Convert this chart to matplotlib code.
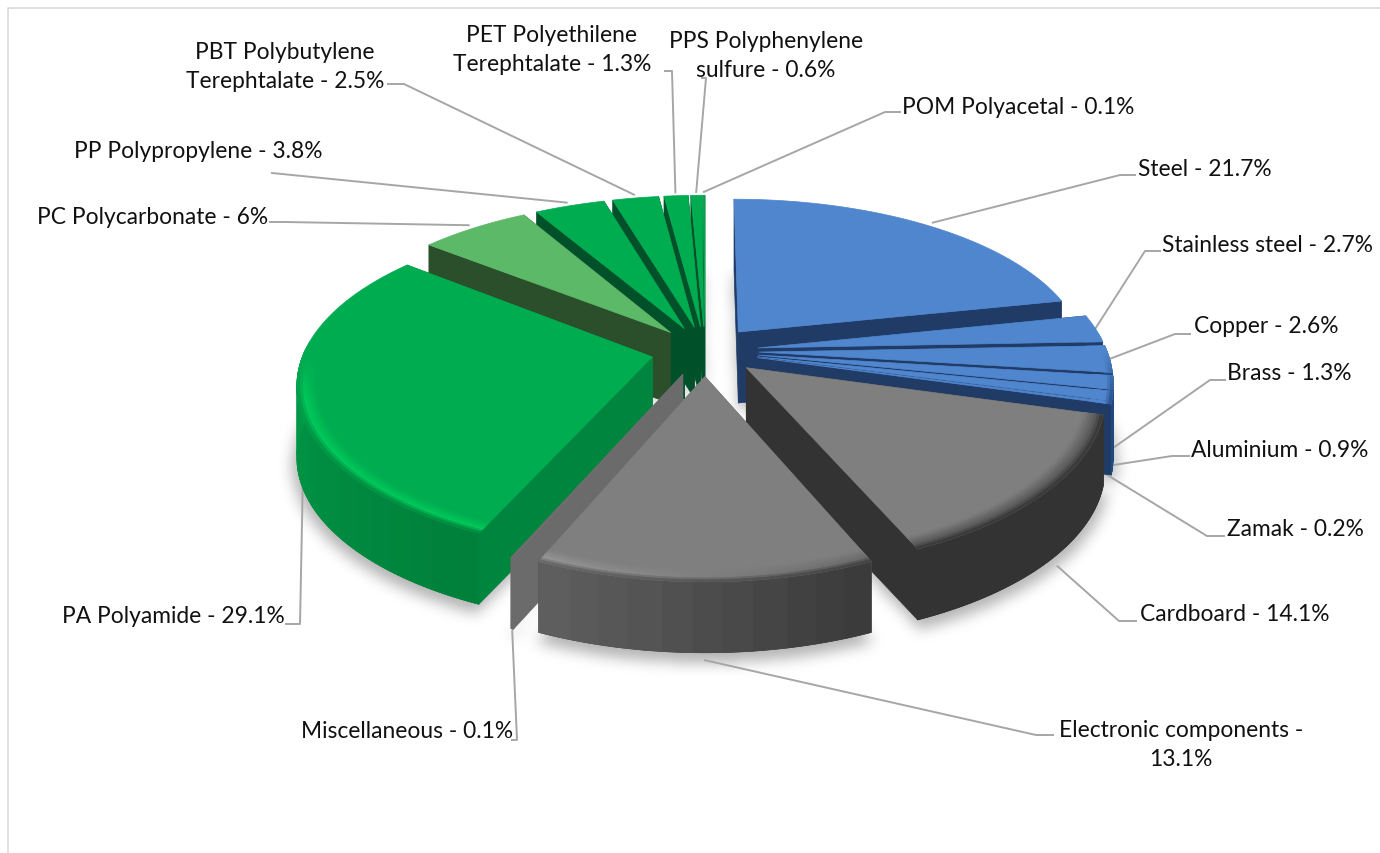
"""3D exploded pie of material shares, drawn with plain polygons and a small perspective projection."""
import numpy as np
import matplotlib
matplotlib.use("Agg")
import matplotlib.pyplot as plt
from matplotlib.collections import PolyCollection
from matplotlib.colors import to_rgb
from matplotlib.path import Path

# ----------------------------------------------------------------------
# Data
# ----------------------------------------------------------------------
materials = ["Steel", "Stainless steel", "Copper", "Brass", "Aluminium", "Zamak",
             "Cardboard", "Electronic components", "Miscellaneous", "PA Polyamide",
             "PC Polycarbonate", "PP Polypropylene", "PBT Polybutylene Terephtalate",
             "PET Polyethilene Terephtalate", "PPS Polyphenylene sulfure", "POM Polyacetal"]
shares = [21.7, 2.7, 2.6, 1.3, 0.9, 0.2, 14.1, 13.1, 0.1, 29.1, 6, 3.8, 2.5, 1.3, 0.6, 0.1]
label_texts = ["Steel - 21.7%", "Stainless steel - 2.7%", "Copper - 2.6%", "Brass - 1.3%",
               "Aluminium - 0.9%", "Zamak - 0.2%", "Cardboard - 14.1%",
               "Electronic components -\n13.1%", "Miscellaneous - 0.1%", "PA Polyamide - 29.1%",
               "PC Polycarbonate - 6%", "PP Polypropylene - 3.8%",
               "PBT Polybutylene\nTerephtalate - 2.5%", "PET Polyethilene\nTerephtalate - 1.3%",
               "PPS Polyphenylene\nsulfure - 0.6%", "POM Polyacetal - 0.1%"]

# ----------------------------------------------------------------------
# Layout and look
# ----------------------------------------------------------------------
W, H = 1380, 854
CX, CY = 705, 352       # pie centre in pixels
RX, RY = 348, 161       # world -> pixel scale
PERSP_X, PERSP_Y = 0.152, 0.168   # perspective strength
EXPLODE = 0.155
THICK = 71
RIM = 0.055             # width of the soft bevel on the top face
LINE = "#A6A6A6"

BLUE = dict(top="#5086CE", cut="#1F3B66", wall=("#1F4A80", "#1F4A80"), hi=("#5086CE", "#5086CE"))
GREEN = dict(top="#00AC50", cut="#00502A", wall=("#007F3A", "#00A84F"), hi=("#00C85A", "#00C85A"))
looks = [BLUE] * 6 + [
    dict(top="#7F7F7F", cut="#333333", wall=("#333333", "#333333"), hi=("#5A5A5A", "#5A5A5A")),
    dict(top="#7F7F7F", cut="#686868", wall=("#393939", "#606060"), hi=("#6A6A6A", "#959595")),
    dict(top="#6E6E6E", cut="#6B6B6B", wall=("#6B6B6B", "#6B6B6B"), hi=("#6E6E6E", "#6E6E6E")),
    dict(GREEN, cut="#00853E"),
    dict(GREEN, top="#5CB968", cut="#2A4F2A"),
] + [GREEN] * 5

# label anchor, alignment, leader elbow points, and where the leader meets the slice
label_xy = [(1138, 169), (1162, 246), (1194, 327), (1227, 374), (1191, 451), (1227, 530),
            (1140, 615), (1181, 745), (513, 732), (285, 617), (268, 218), (323, 151),
            (285, 67), (552, 50), (766, 56), (902, 107)]
label_ha = ["left", "left", "left", "left", "left", "left", "left", "center", "right",
            "right", "right", "right", "center", "center", "center", "left"]
elbows = [[(1135, 176), (1120, 176)], [(1160, 252), (1145, 252)], [(1190, 335), (1175, 335)],
          [(1225, 381), (1210, 381)], [(1189, 457), (1172, 457)], [(1224, 537), (1207, 537)],
          [(1136, 622), (1119, 622)], [(1053, 736), (1036, 736)], [(512, 741), (517, 741)],
          [(286, 625), (300, 625)], [(270, 223), (285, 223)], [(272, 174), (272, 174)],
          [(388, 85), (404, 85)], [(665, 72), (672, 72)], [(702, 79), (706, 79)],
          [(900, 113), (885, 113)]]
anchor_r = [1.03, 1.0, 1.0, 0.98, 0.98, 0.98, 1.03, 1.03, 1.0, 0.985, 1.03, 1.03, 1.03, 1.03, 1.03, 1.03]
anchor_z = [0, 0, 0, 1, 1, 1, 1, 1, 1.03, 1, 0, 0, 0, 0, 0, 0]


def project(x, y, z=0.0):
    """World disk coordinates (y = towards the back) to image pixels."""
    return CX + RX * x / (1 + PERSP_X * y), CY - RY * y / (1 + PERSP_Y * y) + THICK * z


def mix(a, b, t):
    a, b = np.array(to_rgb(a)), np.array(to_rgb(b))
    return tuple(a + (b - a) * t)


def slice_point(th, r, off, z=0.0):
    return project(off[0] + r * np.sin(th), off[1] + r * np.cos(th), z)


def wall_polys(ths, off, look, a, b):
    """One solid strip plus 4 degree colour bands on top, so no seams show."""
    if len(ths) < 2:
        return [], []
    strip = [slice_point(t, 1, off) for t in ths] + [slice_point(t, 1, off, 1) for t in ths[::-1]]
    f_mid = (ths[len(ths) // 2] - a) / (b - a)
    polys, cols = [strip], [mix(look["wall"][0], look["wall"][1], f_mid)]
    n = max(1, int(np.degrees(ths[-1] - ths[0]) / 4))
    cuts = np.linspace(0, len(ths) - 1, n + 1).astype(int)
    for c0, c1 in zip(cuts[:-1], cuts[1:]):
        part = ths[c0:c1 + 1]
        f = (part[len(part) // 2] - a) / (b - a)
        polys.append([slice_point(t, 1, off) for t in part] + [slice_point(t, 1, off, 1) for t in part[::-1]])
        cols.append(mix(look["wall"][0], look["wall"][1], f))
    return polys, cols


# ----------------------------------------------------------------------
# Slice geometry
# ----------------------------------------------------------------------
totals = np.cumsum([0] + shares) / sum(shares) * 2 * np.pi
starts, ends = totals[:-1], totals[1:]
mids = (starts + ends) / 2
offsets = [(EXPLODE * np.sin(m), EXPLODE * np.cos(m)) for m in mids]

fig = plt.figure(figsize=(W / 100, H / 100), dpi=100)
ax = fig.add_axes([0, 0, 1, 1])
ax.set_xlim(0, W)
ax.set_ylim(H, 0)
ax.axis("off")

# frame of the chart area
ax.plot([8, 8, W], [H, 9, 9], color="#D9D9D9", lw=1.2, zorder=1)

# soft shadow: mask of the slice bases, blurred
step = 2
gx, gy = np.meshgrid(np.arange(0, W, step) + 1, np.arange(0, H, step) + 1)
grid = np.column_stack([gx.ravel(), gy.ravel()])
mask = np.zeros(len(grid), dtype=bool)
for a, b, off in zip(starts, ends, offsets):
    ths = np.linspace(a, b, max(3, int(np.degrees(b - a) / 2)))
    base = [slice_point(0, 0, off, 1.1)] + [slice_point(t, 1.012, off, 1.1) for t in ths]
    mask |= Path(base).contains_points(grid)
mask = mask.reshape(gx.shape).astype(float)
kernel = np.exp(-0.5 * (np.arange(-10, 11) / 3.5) ** 2)
kernel /= kernel.sum()
mask = np.apply_along_axis(lambda v: np.convolve(v, kernel, mode="same"), 0, mask)
mask = np.apply_along_axis(lambda v: np.convolve(v, kernel, mode="same"), 1, mask)
rgba = np.zeros(mask.shape + (4,))
rgba[..., 3] = 0.3 * mask
ax.imshow(rgba, extent=(0, W, H, 0), interpolation="bilinear", zorder=2, aspect="auto")
ax.set_xlim(0, W)
ax.set_ylim(H, 0)

# leader lines go under the pie
for i in range(len(shares)):
    end = slice_point(mids[i], anchor_r[i], offsets[i], anchor_z[i])
    pts = elbows[i] + [end]
    ax.plot([p[0] for p in pts], [p[1] for p in pts], color=LINE, lw=1.4, zorder=3,
            solid_joinstyle="round")

# ----------------------------------------------------------------------
# Slices, back to front
# ----------------------------------------------------------------------
order = sorted(range(len(shares)), key=lambda i: -abs(mids[i] - np.pi))
for i in order:
    a, b, off, look = starts[i], ends[i], offsets[i], looks[i]
    ths = np.linspace(a, b, max(3, int(np.degrees(b - a) * 1.5)))
    polys, cols = [], []

    # radial cut faces, farther one first; only the front part of the wall
    # is drawn after them, the back part would only show through
    faces = sorted([a, b], key=lambda t: -(off[1] + 0.5 * np.cos(t)))
    for t in faces:
        polys.append([slice_point(t, 0, off), slice_point(t, 1, off),
                      slice_point(t, 1, off, 1), slice_point(t, 0, off, 1)])
        cols.append(look["cut"])

    # outer wall, one strip per continuous front facing run
    front_ths = ths[np.cos(ths) < 0.05]
    if len(front_ths) > 1:
        wp, wc = wall_polys(front_ths, off, look, a, b)
        polys += wp
        cols += wc

    # top face, full size so the bevel bands have no gaps under them
    top = [slice_point(0, 0, off)] + [slice_point(t, 1, off) for t in ths]
    polys.append(top)
    cols.append(look["top"])

    # bevel ring: top colour -> highlight -> wall colour, front facing part only
    bands = np.linspace(1 - RIM, 1, 8)
    rim_ths = ths[np.cos(ths) < 0.1]
    for r0, r1 in zip(bands[:-1], bands[1:]):
        u = ((r0 + r1) / 2 - (1 - RIM)) / RIM
        for t0, t1 in zip(rim_ths[:-1], rim_ths[1:]):
            tm = (t0 + t1) / 2
            f = (tm - a) / (b - a)
            front = np.clip(-4 * np.cos(tm), 0, 1)
            hi = mix(look["hi"][0], look["hi"][1], f)
            wall = mix(look["wall"][0], look["wall"][1], f)
            c = mix(look["top"], hi, u / 0.65) if u < 0.65 else mix(hi, wall, (u - 0.65) / 0.35)
            polys.append([slice_point(t0, r0, off), slice_point(t1, r0, off),
                          slice_point(t1, r1, off), slice_point(t0, r1, off)])
            cols.append(mix(look["top"], c, front))

    ax.add_collection(PolyCollection(polys, facecolors=cols, edgecolors=cols, linewidths=0.5, zorder=4))

# ----------------------------------------------------------------------
# Labels
# ----------------------------------------------------------------------
for txt, (x, y), ha in zip(label_texts, label_xy, label_ha):
    ax.text(x, y, txt, ha=ha, va="center", fontsize=16.4, family="Lato", color="#111111",
            linespacing=1.45, zorder=5)

plt.savefig("out.png", dpi=100)
